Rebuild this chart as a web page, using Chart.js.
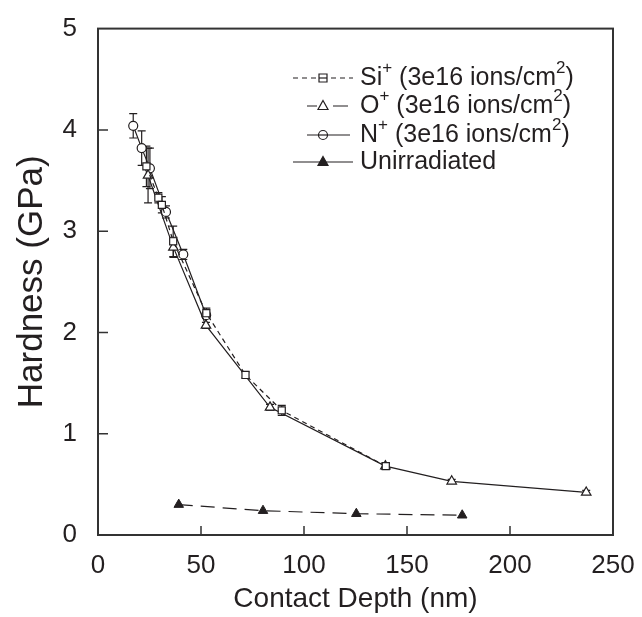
<!DOCTYPE html>
<html><head><meta charset="utf-8">
<script src="https://cdn.jsdelivr.net/npm/chart.js@4/dist/chart.umd.min.js"></script>
<style>html,body{margin:0;padding:0;background:#fff}#wrap{width:642px;height:617px;position:relative}</style>
</head><body><div id="wrap"><canvas id="c" width="642" height="617"></canvas></div>
<script>
// ---- data ----
const siDepth = [23.5, 29.3, 31.0, 36.5, 52.6, 71.6, 89.2, 139.7];
const siHard  = [3.64, 3.33, 3.26, 2.90, 2.19, 1.58, 1.23, 0.68];
const siErr   = [0.20, 0.05, 0.08, 0.15, 0.05, 0.03, 0.05, 0.03];

const oDepth = [24.3, 36.6, 52.4, 83.5, 139.5, 171.7, 237.0];
const oHard  = [3.55, 2.84, 2.07, 1.26, 0.68, 0.53, 0.42];
const oErr   = [0.27, 0.10, 0.03, 0.03, 0.03, 0.02, 0.02];

const nDepth = [17.1, 21.2, 25.2, 33.0, 41.4, 52.5];
const nHard  = [4.04, 3.82, 3.62, 3.19, 2.77, 2.17];
const nErr   = [0.12, 0.17, 0.20, 0.06, 0.05, 0.03];

const unDepth = [39.2, 80.1, 125.4, 176.8];
const unHard  = [0.30, 0.24, 0.21, 0.195];

const xTicks = [0, 50, 100, 150, 200, 250];
const yTicks = [0, 1, 2, 3, 4, 5];

// legend text pieces: [text, isSuperscript]
const legendSi = [['Si', false], ['+', true], [' (3e16 ions/cm', false], ['2', true], [')', false]];
const legendO  = [['O', false], ['+', true], [' (3e16 ions/cm', false], ['2', true], [')', false]];
const legendN  = [['N', false], ['+', true], [' (3e16 ions/cm', false], ['2', true], [')', false]];
const legendU  = [['Unirradiated', false]];

const FONT = '"Liberation Sans", Arial, Helvetica, sans-serif';
const INK = '#231f20';

function pts(xs, ys, es) { return xs.map((x, i) => ({x: x, y: ys[i], e: es ? es[i] : 0})); }

const datasets = [
  {label: 'Si', data: pts(siDepth, siHard, siErr), borderColor: INK, borderWidth: 1.2, borderDash: [5, 4],
   pointStyle: 'rect', pointRadius: 5, pointBackgroundColor: '#fff', pointBorderColor: INK, pointBorderWidth: 1.2},
  {label: 'O', data: pts(oDepth, oHard, oErr), borderColor: INK, borderWidth: 1.2,
   pointStyle: 'triangle', pointRadius: 5.5, pointBackgroundColor: '#fff', pointBorderColor: INK, pointBorderWidth: 1.2},
  {label: 'N', data: pts(nDepth, nHard, nErr), borderColor: INK, borderWidth: 1.2,
   pointStyle: 'circle', pointRadius: 4.5, pointBackgroundColor: '#fff', pointBorderColor: INK, pointBorderWidth: 1.2},
  {label: 'U', data: pts(unDepth, unHard, null), borderColor: INK, borderWidth: 1.2, borderDash: [14, 8],
   pointStyle: 'triangle', pointRadius: 5.5, pointBackgroundColor: INK, pointBorderColor: INK, pointBorderWidth: 1}
];

const errorBars = {
  id: 'errorBars',
  beforeDatasetsDraw(chart) {
    const {ctx, scales: {x, y}} = chart;
    ctx.save();
    ctx.strokeStyle = INK; ctx.lineWidth = 1.2; ctx.setLineDash([]);
    chart.data.datasets.forEach(ds => {
      ds.data.forEach(p => {
        if (!p.e) return;
        const px = x.getPixelForValue(p.x);
        const y1 = y.getPixelForValue(p.y + p.e), y2 = y.getPixelForValue(p.y - p.e);
        ctx.beginPath();
        ctx.moveTo(px, y1); ctx.lineTo(px, y2);
        ctx.moveTo(px - 4, y1); ctx.lineTo(px + 4, y1);
        ctx.moveTo(px - 4, y2); ctx.lineTo(px + 4, y2);
        ctx.stroke();
      });
    });
    ctx.restore();
  }
};

function drawMarker(ctx, style, cx, cy, filled) {
  ctx.save();
  ctx.setLineDash([]);
  ctx.lineWidth = 1.2; ctx.strokeStyle = INK; ctx.fillStyle = filled ? INK : '#fff';
  ctx.beginPath();
  if (style === 'rect') { ctx.rect(cx - 4, cy - 4, 8, 8); }
  else if (style === 'circle') { ctx.arc(cx, cy, 4.5, 0, Math.PI * 2); }
  else { ctx.moveTo(cx, cy - 5.5); ctx.lineTo(cx + 5, cy + 3.5); ctx.lineTo(cx - 5, cy + 3.5); ctx.closePath(); }
  ctx.fill(); ctx.stroke();
  if (style === 'rect') { ctx.beginPath(); ctx.moveTo(cx - 4, cy); ctx.lineTo(cx + 4, cy); ctx.stroke(); }
  if (style === 'circle') { ctx.beginPath(); ctx.moveTo(cx - 4.5, cy); ctx.lineTo(cx + 4.5, cy); ctx.stroke(); }
  ctx.restore();
}

function drawRich(ctx, parts, x, y) {
  let cx = x;
  parts.forEach(([t, sup]) => {
    ctx.font = (sup ? '17px ' : '25px ') + FONT;
    ctx.fillText(t, cx, sup ? y - 10 : y);
    cx += ctx.measureText(t).width;
  });
}

const frameAndLegend = {
  id: 'frameAndLegend',
  afterDraw(chart) {
    const {ctx, chartArea: a, scales: {x, y}} = chart;
    ctx.save();
    // frame
    ctx.strokeStyle = '#333'; ctx.lineWidth = 2; ctx.setLineDash([]);
    ctx.strokeRect(a.left, a.top, a.right - a.left, a.bottom - a.top);
    // inward ticks
    ctx.lineWidth = 1.5;
    ctx.beginPath();
    xTicks.slice(1, -1).forEach(v => { const px = x.getPixelForValue(v); ctx.moveTo(px, a.bottom); ctx.lineTo(px, a.bottom - 9); });
    yTicks.slice(1, -1).forEach(v => { const py = y.getPixelForValue(v); ctx.moveTo(a.left, py); ctx.lineTo(a.left + 10, py); });
    ctx.stroke();
    // legend
    ctx.strokeStyle = INK; ctx.lineWidth = 1.2; ctx.fillStyle = INK; ctx.textBaseline = 'middle';
    const rows = [
      {y: 78, parts: legendSi, style: 'rect', segs: [[293, 298], [302, 307], [311, 316], [331, 336], [340, 345], [349, 353]], filled: false},
      {y: 106, parts: legendO, style: 'tri', segs: [[307, 317], [333, 348]], filled: false},
      {y: 135, parts: legendN, style: 'circle', segs: [[307, 318], [328, 350]], filled: false},
      {y: 162, parts: legendU, style: 'tri', segs: [[293, 353]], filled: true}
    ];
    rows.forEach(r => {
      ctx.beginPath();
      r.segs.forEach(s => { ctx.moveTo(s[0], r.y); ctx.lineTo(s[1], r.y); });
      ctx.stroke();
      drawMarker(ctx, r.style, 323, r.y, r.filled);
      ctx.fillStyle = INK;
      drawRich(ctx, r.parts, 360, r.y);
    });
    ctx.restore();
  }
};

new Chart(document.getElementById('c'), {
  type: 'line',
  data: {datasets: datasets},
  options: {
    responsive: false,
    animation: false,
    layout: {padding: {left: 0, top: 22, right: 29, bottom: 0}},
    plugins: {legend: {display: false}, tooltip: {enabled: false}},
    elements: {line: {tension: 0}},
    scales: {
      x: {
        type: 'linear', min: 0, max: 250,
        afterBuildTicks: s => { s.ticks = xTicks.map(v => ({value: v})); },
        afterFit: s => { s.height = 82; },
        grid: {display: false}, border: {display: false},
        ticks: {color: INK, font: {family: FONT, size: 26}, padding: 7, maxRotation: 0},
        title: {display: true, text: 'Contact Depth (nm)', color: INK, font: {family: FONT, size: 28}, padding: {top: 0, bottom: 1}}
      },
      y: {
        type: 'linear', min: 0, max: 5,
        afterBuildTicks: s => { s.ticks = yTicks.map(v => ({value: v})); },
        afterFit: s => { s.width = 98; },
        grid: {display: false}, border: {display: false},
        ticks: {color: INK, font: {family: FONT, size: 26}, padding: 13},
        title: {display: true, text: 'Hardness (GPa)', color: INK, font: {family: FONT, size: 35}, padding: {top: 11, bottom: 0}}
      }
    }
  },
  plugins: [errorBars, frameAndLegend]
});
</script></body></html>
